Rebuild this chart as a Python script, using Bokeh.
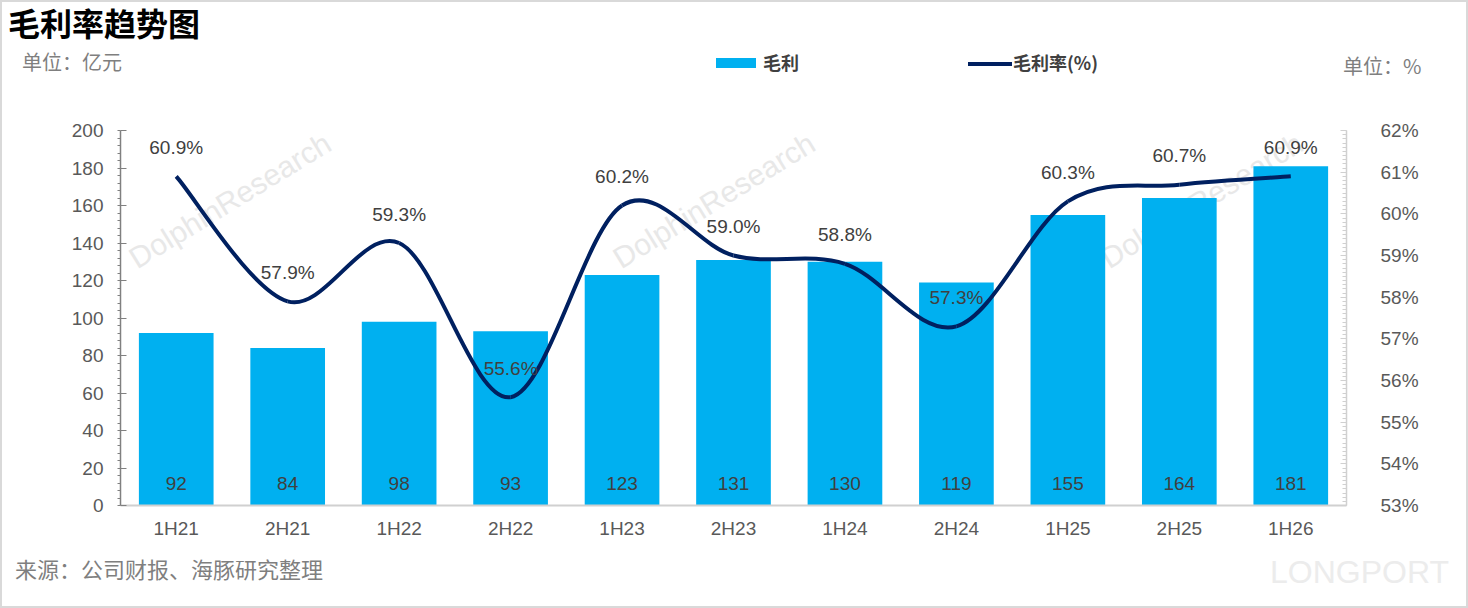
from bokeh.plotting import figure
from bokeh.layouts import column, row
from bokeh.models import (Range1d, LinearAxis, FixedTicker, SingleIntervalTicker,
                          PrintfTickFormatter, Label, Div)
from bokeh.core.properties import value
from bokeh.embed import file_html
from bokeh.resources import INLINE

# data
periods = ["1H21", "2H21", "1H22", "2H22", "1H23", "2H23", "1H24", "2H24", "1H25", "2H25", "1H26"]
gross_profit = [92, 84, 98, 93, 123, 131, 130, 119, 155, 164, 181]      # 亿元
gross_margin = [60.9, 57.9, 59.3, 55.6, 60.2, 59.0, 58.8, 57.3, 60.3, 60.7, 60.9]  # %

BAR_COLOR = "#00B0F0"
LINE_COLOR = "#002060"
FRAME_COLOR = "#D9D9D9"
NUM_FONT = value("Liberation Sans")
CJK_FONT = "Noto Sans CJK SC"
WM_COLOR = "#E8E8E8"

W, H = 1468, 608
HEAD_H, FOOT_H = 98, 60
MAIN_H = H - HEAD_H - FOOT_H
FOOT_TOP = HEAD_H + MAIN_H
BW = 2                      # frame line width
PW = W - 2 * BW             # width of the chart figure
# frame edges inside the chart figure
FL, FR, FT, FB = 118, 1344, 32, 407

# watermark start points (page pixels), kept inside the plot frame
watermarks = [(140, 274), (624, 274), (1112, 274)]

n = len(periods)
xs = [i + 0.5 for i in range(n)]


def span(x, y, text, size, color, weight="normal", font=CJK_FONT, top=0):
    # x, y in page pixels; top is where the strip starts, its border sits inside it
    return ('<span style="position:absolute;left:%dpx;top:%dpx;transform:translateY(-50%%);'
            'font-family:\'%s\';font-size:%dpx;font-weight:%s;color:%s;white-space:nowrap;'
            'line-height:1.2">%s</span>' % (x - BW, y - top - BW * (top == 0), font, size,
                                            weight, color, text))


def box(x, y, w, h, color):
    return ('<div style="position:absolute;left:%dpx;top:%dpx;width:%dpx;height:%dpx;'
            'background:%s"></div>' % (x - BW, y - BW, w, h, color))


def strip(inner, h, sides):
    border = ";".join("border-%s:%dpx solid %s" % (s, BW, FRAME_COLOR) for s in sides)
    html = ('<div style="position:relative;width:%dpx;height:%dpx;box-sizing:border-box;'
            'background:white;%s">%s</div>' % (W, h, border, inner))
    return Div(text=html, width=W, height=h, margin=0)


# ---------- header: title, units, legend ----------
head = strip(
    span(8, 22, "毛利率趋势图", 32, "#000000", "bold")
    + span(22, 62, "单位：亿元", 20, "#7F7F7F")
    + box(716, 58, 40, 10, BAR_COLOR)
    + span(763, 63, "毛利", 18, "#404040", "bold")
    + box(968, 62, 44, 4, LINE_COLOR)
    + span(1013, 63, "毛利率(%)", 18, "#404040", "bold")
    + span(1343, 66, "单位：%", 20, "#7F7F7F"),
    HEAD_H, ["top", "left", "right"])

# ---------- main chart ----------
p = figure(width=PW, height=MAIN_H, x_range=Range1d(0, n), y_range=Range1d(0, 200),
           output_backend="svg", toolbar_location=None, margin=0,
           min_border_left=FL, min_border_right=PW - FR,
           min_border_top=FT, min_border_bottom=MAIN_H - FB)
p.extra_y_ranges = {"pct": Range1d(53, 62)}
p.grid.visible = False
p.outline_line_color = None

# bars
p.vbar(x=xs, top=gross_profit, width=0.67, fill_color=BAR_COLOR, line_color=None)

# smoothed margin line (catmull-rom -> bezier)
bx0, by0, bx1, by1, bcx0, bcy0, bcx1, bcy1 = [], [], [], [], [], [], [], []
for i in range(n - 1):
    a = max(i - 1, 0)
    d = min(i + 2, n - 1)
    bx0.append(xs[i]); by0.append(gross_margin[i])
    bx1.append(xs[i + 1]); by1.append(gross_margin[i + 1])
    bcx0.append(xs[i] + (xs[i + 1] - xs[a]) / 6)
    bcy0.append(gross_margin[i] + (gross_margin[i + 1] - gross_margin[a]) / 6)
    bcx1.append(xs[i + 1] - (xs[d] - xs[i]) / 6)
    bcy1.append(gross_margin[i + 1] - (gross_margin[d] - gross_margin[i]) / 6)
p.bezier(x0=bx0, y0=by0, x1=bx1, y1=by1, cx0=bcx0, cy0=bcy0, cx1=bcx1, cy1=bcy1,
         line_color=LINE_COLOR, line_width=4, y_range_name="pct")

# value labels
p.text(x=xs, y=[0] * n, text=[str(v) for v in gross_profit], y_offset=-22,
       text_align="center", text_baseline="middle", text_font=NUM_FONT,
       text_font_size="19px", text_color="#404040")
p.text(x=xs, y=gross_margin, text=["%.1f%%" % v for v in gross_margin], y_range_name="pct",
       y_offset=-29, text_align="center", text_baseline="middle", text_font=NUM_FONT,
       text_font_size="19px", text_color="#404040")

# axes
xa = p.xaxis[0]
xa.ticker = FixedTicker(ticks=xs)
xa.major_label_overrides = {x: lab for x, lab in zip(xs, periods)}
xa.axis_line_color = "#D0D0D0"
xa.axis_line_width = 2
xa.major_tick_line_color = None
xa.minor_tick_line_color = None
xa.major_label_standoff = 6
xa.major_label_text_font = "Liberation Sans"
xa.major_label_text_font_size = "19px"
xa.major_label_text_color = "#595959"

ya = p.yaxis[0]
ya.ticker = SingleIntervalTicker(interval=20, num_minor_ticks=5)
ya.axis_line_color = "#808080"
ya.axis_line_width = 1.5
ya.major_tick_line_color = "#808080"
ya.major_tick_in = 6
ya.major_tick_out = 0
ya.minor_tick_line_color = "#808080"
ya.minor_tick_in = 0
ya.minor_tick_out = 3
ya.major_label_standoff = 14
ya.major_label_text_font = "Liberation Sans"
ya.major_label_text_font_size = "19px"
ya.major_label_text_color = "#595959"

ra = LinearAxis(y_range_name="pct",
                ticker=SingleIntervalTicker(interval=1, num_minor_ticks=10),
                formatter=PrintfTickFormatter(format="%d%%"))
ra.axis_line_color = "#D0D0D0"
ra.axis_line_width = 1.5
ra.major_tick_line_color = "#D0D0D0"
ra.major_tick_in = 6
ra.major_tick_out = 0
ra.minor_tick_line_color = "#D0D0D0"
ra.minor_tick_in = 4
ra.minor_tick_out = 0
ra.major_label_standoff = 34
ra.major_label_text_font = "Liberation Sans"
ra.major_label_text_font_size = "19px"
ra.major_label_text_color = "#595959"
p.add_layout(ra, "right")

# watermarks inside the frame (behind the bars)
for wx, wy in watermarks:
    p.add_layout(Label(x=(wx - BW) - FL, y=FB - (wy - HEAD_H), x_units="screen", y_units="screen",
                       text="DolphinResearch", angle=0.55, text_font="Liberation Sans",
                       text_font_size="30px", text_color=WM_COLOR, level="underlay"))

side = dict(width=BW, height=MAIN_H, margin=0, styles={"background-color": FRAME_COLOR})
middle = row(Div(text="", **side), p, Div(text="", **side), spacing=0, margin=0)

# ---------- footer ----------
foot = strip(
    span(15, 568, "来源：公司财报、海豚研究整理", 22, "#7F7F7F", top=FOOT_TOP)
    + span(1270, 572, "LONGPORT", 32, "#ECECEC", font="Liberation Sans", top=FOOT_TOP),
    FOOT_H, ["bottom", "left", "right"])

page = column(head, middle, foot, spacing=0, margin=0)

open("out.html", "w").write(file_html(page, INLINE))
